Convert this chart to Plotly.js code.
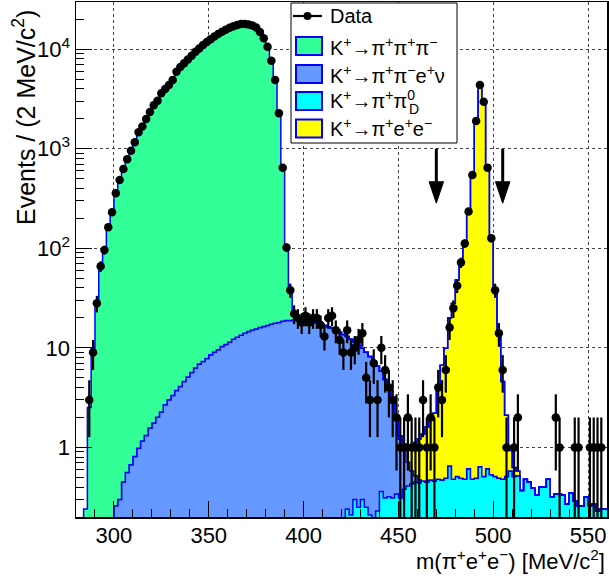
<!DOCTYPE html>
<html><head><meta charset="utf-8">
<script src="https://cdn.plot.ly/plotly-3.0.1.min.js"></script>
<style>html,body{margin:0;padding:0;background:#fff}</style>
</head><body><div id="chart" style="width:609px;height:579px"></div>
<script>
// ---- binning (left edges, 2 MeV bins) ----
const binLowEdges = [
280,282,284,286,288,290,292,294,296,298,
300,302,304,306,308,310,312,314,316,318,
320,322,324,326,328,330,332,334,336,338,
340,342,344,346,348,350,352,354,356,358,
360,362,364,366,368,370,372,374,376,378,
380,382,384,386,388,390,392,394,396,398,
400,402,404,406,408,410,412,414,416,418,
420,422,424,426,428,430,432,434,436,438,
440,442,444,446,448,450,452,454,456,458,
460,462,464,466,468,470,472,474,476,478,
480,482,484,486,488,490,492,494,496,498,
500,502,504,506,508,510,512,514,516,518,
520,522,524,526,528,530,532,534,536,538,
540,542,544,546,548,550,552,554,556,558];
const binWidth = 2;

// ---- MC components ----
const k3pi = [
0,0,0.23,2.5,9.9,28,65,96,163,235,
360,486,627,783,955,1160,1465,1670,1990,2340,
2730,3040,3600,3980,4370,4900,5900,6600,7250,7900,
8600,9400,10200,11000,11800,12600,13400,14200,15000,15700,
16400,17000,17500,17850,17900,17700,17300,16500,14900,12900,
10600,7700,4900,2280,630,83,19,2,0,0,
0,0,0,0,0,0,0,0,0,0,
0,0,0,0,0,0,0,0,0,0,
0,0,0,0,0,0,0,0,0,0,
0,0,0,0,0,0,0,0,0,0,
0,0,0,0,0,0,0,0,0,0,
0,0,0,0,0,0,0,0,0,0,
0,0,0,0,0,0,0,0,0,0,
0,0,0,0,0,0,0,0,0,0];
const ke4 = [
0,0,0,0,0,0,0,0,0,0,
0.25,0.29,0.44,0.55,0.66,0.80,0.97,1.15,1.31,1.56,
1.75,2.0,2.26,2.68,3.0,3.32,3.73,4.09,4.59,5.08,
5.65,6.25,6.86,7.28,7.81,8.5,9.05,9.55,10.3,10.8,
11.4,12.2,12.8,13.4,14.0,14.6,15.1,15.5,16.0,16.4,
16.8,17.3,17.7,18.0,18.5,18.8,18.8,19.0,19.0,18.9,
18.7,18.4,18.1,17.7,17.3,16.8,16.3,15.8,15.0,14.3,
13.5,12.8,12.0,11.2,10.4,9.6,8.8,8.0,7.2,6.3,
5.45,4.5,3.6,2.8,1.7,0.9,0.55,0.3,0.15,0.07,
0.03,0,0,0,0,0,0,0,0,0,
0,0,0,0,0,0,0,0,0,0,
0,0,0,0,0,0,0,0,0,0,
0,0,0,0,0,0,0,0,0,0,
0,0,0,0,0,0,0,0,0,0];
const pipi0D = [
0,0,0,0,0,0,0,0,0,0,
0,0,0,0,0,0,0,0,0,0,
0,0,0,0,0,0,0,0,0,0,
0,0,0,0,0,0,0,0,0,0,
0,0,0,0,0,0,0,0,0,0,
0,0,0,0,0,0,0,0,0,0,
0,0,0,0,0,0,0,0,0,0,
0.12,0.23,0.2,0.29,0.24,0.29,0.24,0.2,0.16,0.22,
0.35,0.3,0.31,0.3,0.33,0.3,0.37,0.4,0.42,0.44,
0.43,0.45,0.44,0.46,0.45,0.47,0.46,0.48,0.64,0.47,
0.5,0.48,0.47,0.6,0.47,0.48,0.63,0.5,0.6,0.52,
0.5,0.48,0.47,0.5,0.57,0.5,0.51,0.36,0.47,0.44,
0.38,0.32,0.39,0.39,0.47,0.31,0.33,0.33,0.32,0.26,
0.34,0.28,0.25,0.25,0.31,0.25,0.26,0.22,0.23,0.23];
const piee = [
0,0,0,0,0,0,0,0,0,0,
0,0,0,0,0,0,0,0,0,0,
0,0,0,0,0,0,0,0,0,0,
0,0,0,0,0,0,0,0,0,0,
0,0,0,0,0,0,0,0,0,0,
0,0,0,0,0,0,0,0,0,0,
0,0,0,0,0,0,0,0,0,0,
0,0,0,0,0,0,0,0,0,0,
0,0,0,0,0.05,0.1,0.15,0.3,0.45,0.6,
0.75,0.9,1.15,1.5,1.75,3.7,6.2,9.4,19.3,27.5,
47.5,67.5,116.5,242,567,1800,4370,2860,687,130,
37.5,14.1,4.1,1.6,0.35,0.12,0.06,0,0,0,
0,0,0,0,0,0,0,0,0,0,
0,0,0,0,0,0,0,0,0,0];
// ---- data counts ----
const dataCounts = [
0,0,0,3,9,28,66,96,163,230,
357,486,627,783,955,1160,1465,1670,1990,2340,
2730,3040,3600,3980,4370,4900,5950,6620,7230,7880,
8580,9420,10180,11020,11790,12610,13380,14220,14980,15720,
16390,17010,17480,17870,17910,17690,17320,16480,14880,12880,
10590,7670,4910,2270,646,102,38,22,20,18,
21,18,20,20,17,13,20,21,15,12,
9,15,9,10,12,14,5,3,7,3,
10,6,4,3,2,1,1,2,1,1,
1,3,1,2,1,4,3,6,16,25,
42,72,112,234,546,1900,4370,2970,646,126,
38,14,6,1,0,1,2,0,0,0,
0,0,0,0,0,0,2,1,0,0,
0,1,1,0,0,1,1,1,1,0];

const xTickVals = [300,350,400,450,500,550];
const yTickVals = [1,10,100,1000,10000];
const yTickText = ['1','10','10<sup>2</sup>','10<sup>3</sup>','10<sup>4</sup>'];
const signalCuts = [470,505];
const arrowTop = 1000, arrowHeadBase = 466, arrowTip = 284, arrowHalfWidth = 3.8;

const legendLabels = [
  'Data',
  'K<sup>+</sup>→π<sup>+</sup>π<sup>+</sup>π<sup>−</sup>',
  'K<sup>+</sup>→π<sup>+</sup>π<sup>−</sup>e<sup>+</sup>ν',
  'K<sup>+</sup>→π<sup>+</sup>π<sup>0</sup>',
  'K<sup>+</sup>→π<sup>+</sup>e<sup>+</sup>e<sup>−</sup>'];

const colGreen = '#33ff99', colBlue = '#6699ff', colCyan = '#00ffff', colYellow = '#ffff00';
const lineBlue = '#0000ff';
const FONT = 'Liberation Sans, Arial, Helvetica, sans-serif';

// ---- build stacked step histograms ----
const base = 0.01;
const nb = binLowEdges.length;
const xEdges = binLowEdges.concat([binLowEdges[nb-1] + binWidth]);
function cum(arrs){
  const out = [];
  for (let i=0;i<nb;i++){ let s = base; arrs.forEach(a=>{s+=a[i];}); out.push(s); }
  out.push(out[nb-1]);
  return out;
}
const baseLine = xEdges.map(()=>base);
const cCyan = cum([pipi0D]);
const cBlue = cum([pipi0D, ke4]);
const cYellow = cum([pipi0D, ke4, piee]);
const cGreen = cum([pipi0D, ke4, piee, k3pi]);

function stepTrace(y, fillcolor){
  return {x:xEdges, y:y, type:'scatter', mode:'lines', line:{shape:'hv', color:lineBlue, width:1.5},
          fill:'tonexty', fillcolor:fillcolor, hoverinfo:'skip', showlegend:false};
}
const traces = [
  {x:xEdges, y:baseLine, type:'scatter', mode:'lines', line:{width:0, shape:'hv'}, hoverinfo:'skip', showlegend:false},
  stepTrace(cCyan, colCyan),
  stepTrace(cBlue, colBlue),
  stepTrace(cYellow, colYellow),
  stepTrace(cGreen, colGreen)
];

// data points
const dx=[], dy=[], de=[];
for (let i=0;i<nb;i++){
  if (dataCounts[i] > 0){
    dx.push(binLowEdges[i] + binWidth/2);
    dy.push(dataCounts[i]);
    de.push(Math.sqrt(dataCounts[i]));
  }
}
traces.push({x:dx, y:dy, type:'scatter', mode:'markers',
  marker:{symbol:'circle', size:8.5, color:'#000'},
  error_y:{type:'data', array:de, visible:true, color:'#000', thickness:2.2, width:0},
  error_x:{type:'constant', value:binWidth/2, visible:true, color:'#000', thickness:2.2, width:0},
  showlegend:false, hoverinfo:'skip'});

// arrows at the signal cuts
signalCuts.forEach(c=>{
  traces.push({x:[c,c], y:[arrowTop, arrowHeadBase], type:'scatter', mode:'lines',
    line:{color:'#000', width:3}, showlegend:false, hoverinfo:'skip'});
  traces.push({x:[c-arrowHalfWidth, c+arrowHalfWidth, c, c-arrowHalfWidth],
    y:[arrowHeadBase, arrowHeadBase, arrowTip, arrowHeadBase], type:'scatter', mode:'lines',
    fill:'toself', fillcolor:'#000', line:{color:'#000', width:1}, showlegend:false, hoverinfo:'skip'});
});

// ---- minor ticks ----
const yMinor = [];
[0.1,1,10,100,1000,10000].forEach(d=>{ for(let k=2;k<=9;k++){ const v=d*k; if(v>=0.2 && v<29000) yMinor.push(v);} });

// ---- pixel helpers for legend/labels ----
const L=76, R=607, T=2, B=517;
const px = xp => (xp-L)/(R-L);
const py = yp => (B-yp)/(B-T);

const shapes = [];
const annotations = [];
// legend box
shapes.push({type:'rect', xref:'paper', yref:'paper', x0:px(291), x1:px(457), y0:py(143), y1:py(3),
  line:{color:'#000', width:1}, fillcolor:'#fff', layer:'above'});
// data symbol
shapes.push({type:'line', xref:'paper', yref:'paper', x0:px(293), x1:px(322), y0:py(16), y1:py(16),
  line:{color:'#000', width:2.2}});
shapes.push({type:'circle', xref:'paper', yref:'paper', x0:px(303.5), x1:px(311.5), y0:py(20), y1:py(12),
  line:{color:'#000', width:0}, fillcolor:'#000'});
const swatchCols = [colGreen, colBlue, colCyan, colYellow];
const swatchTops = [37, 65, 92, 119.5];
swatchCols.forEach((c,k)=>{
  shapes.push({type:'rect', xref:'paper', yref:'paper', x0:px(296), x1:px(322), y0:py(swatchTops[k]+18), y1:py(swatchTops[k]),
    line:{color:lineBlue, width:2}, fillcolor:c});
});
const labelY = [16, 47, 75, 100, 128];
legendLabels.forEach((t,k)=>{
  annotations.push({text:t, xref:'paper', yref:'paper', x:px(328), y:py(labelY[k]), xanchor:'left', yanchor:'middle',
    showarrow:false, font:{family:FONT, size:20, color:'#000'}});
});
annotations.push({text:'D', xref:'paper', yref:'paper', x:px(414), y:py(109), xanchor:'center', yanchor:'middle',
  showarrow:false, font:{family:FONT, size:14, color:'#000'}});
// axis titles
annotations.push({text:'m(π<sup>+</sup>e<sup>+</sup>e<sup>−</sup>) [MeV/c<sup>2</sup>]', xref:'paper', yref:'paper',
  x:px(607), y:py(560), xanchor:'right', yanchor:'middle', showarrow:false, font:{family:FONT, size:22, color:'#000'}});
annotations.push({text:'Events / (2 MeV/c<sup>2</sup>)', xref:'paper', yref:'paper', textangle:-90,
  x:px(24), y:py(118), xanchor:'center', yanchor:'middle', showarrow:false, font:{family:FONT, size:25, color:'#000'}});

const layout = {
  width:609, height:579,
  margin:{l:L, r:609-R, t:T, b:579-B},
  paper_bgcolor:'#fff', plot_bgcolor:'#fff',
  showlegend:false,
  font:{family:FONT, color:'#000'},
  xaxis:{range:[280,560], tickmode:'array', tickvals:xTickVals, ticks:'inside', ticklen:16, tickwidth:1, tickcolor:'#000',
    minor:{dtick:10, tick0:280, ticks:'inside', ticklen:8, tickwidth:1, tickcolor:'#000', showgrid:false},
    showline:true, mirror:true, linecolor:'#000', linewidth:1.5,
    showgrid:true, gridcolor:'#444', griddash:'dot', gridwidth:1, zeroline:false,
    ticklabelstandoff:-2,
    tickfont:{family:FONT, size:22, color:'#000'}},
  yaxis:{type:'log', range:[Math.log10(0.2), 4.474], tickmode:'array', tickvals:yTickVals, ticktext:yTickText,
    ticks:'inside', ticklen:16, tickwidth:1, tickcolor:'#000',
    minor:{tickmode:'array', tickvals:yMinor, ticks:'inside', ticklen:8, tickwidth:1, tickcolor:'#000', showgrid:false},
    showline:true, mirror:true, linecolor:'#000', linewidth:1.5,
    showgrid:true, gridcolor:'#444', griddash:'dot', gridwidth:1, zeroline:false,
    tickfont:{family:FONT, size:22, color:'#000'}},
  shapes:shapes, annotations:annotations
};
Plotly.newPlot('chart', traces, layout, {displayModeBar:false, staticPlot:true});
</script></body></html>
